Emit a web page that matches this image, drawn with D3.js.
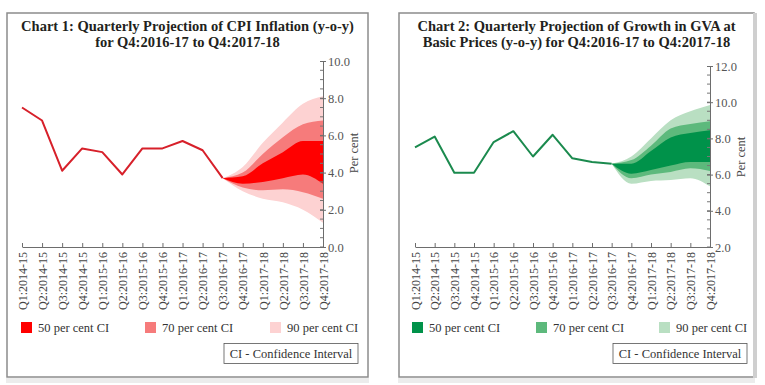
<!DOCTYPE html>
<html>
<head>
<meta charset="utf-8">
<script src="https://cdn.jsdelivr.net/npm/d3@7"></script>
<style>
  body { margin: 0; background: #fff; }
  text { font-family: "Liberation Serif", "DejaVu Serif", serif; }
</style>
</head>
<body>
<div id="chart"></div>
<script>
var width = 765;
var height = 385;

var quarters = ['Q1:2014-15', 'Q2:2014-15', 'Q3:2014-15', 'Q4:2014-15',
  'Q1:2015-16', 'Q2:2015-16', 'Q3:2015-16', 'Q4:2015-16',
  'Q1:2016-17', 'Q2:2016-17', 'Q3:2016-17', 'Q4:2016-17',
  'Q1:2017-18', 'Q2:2017-18', 'Q3:2017-18', 'Q4:2017-18'];
// projection quarters (fan starts at last actual)
var fanQuarters = quarters.slice(10);

var cpiActual = [7.5, 6.8, 4.1, 5.3, 5.1, 3.9, 5.3, 5.3, 5.7, 5.2, 3.7];
var cpi50Upper = [3.7, 3.8, 4.5, 5.1, 5.7, 5.7];
var cpi50Lower = [3.7, 3.4, 3.5, 3.7, 3.9, 3.4];
var cpi70Upper = [3.7, 4.0, 5.0, 5.9, 6.6, 6.8];
var cpi70Lower = [3.7, 3.2, 3.05, 3.1, 2.95, 2.6];
var cpi90Upper = [3.7, 4.3, 5.6, 6.7, 7.7, 8.1];
var cpi90Lower = [3.7, 3.0, 2.6, 2.4, 2.0, 1.3];

var gvaActual = [7.5, 8.1, 6.1, 6.1, 7.8, 8.4, 7.0, 8.2, 6.9, 6.7, 6.6];
var gva50Upper = [6.6, 6.6, 7.3, 8.05, 8.3, 8.45];
var gva50Lower = [6.6, 6.05, 6.25, 6.5, 6.7, 6.7];
var gva70Upper = [6.6, 6.8, 7.6, 8.55, 8.8, 8.95];
var gva70Lower = [6.6, 5.8, 6.0, 6.15, 6.35, 6.2];
var gva90Upper = [6.6, 7.0, 8.0, 9.0, 9.5, 9.85];
var gva90Lower = [6.6, 5.5, 5.65, 5.7, 5.8, 5.35];

var cpiTicks = [0, 2, 4, 6, 8, 10];
var gvaTicks = [2, 4, 6, 8, 10, 12];
var legendLabels = ['50 per cent CI', '70 per cent CI', '90 per cent CI'];

var svg = d3.select("#chart").append("svg")
  .attr("width", width)
  .attr("height", height);

function drawChart(cfg) {
  var g = svg.append("g");

  // panel frame
  g.append("rect")
    .attr("x", cfg.px).attr("y", 13)
    .attr("width", cfg.pw).attr("height", 364)
    .attr("fill", "none")
    .attr("stroke", "#8c8c8c")
    .attr("stroke-width", 1.5);
  g.append("rect")
    .attr("x", cfg.px - 1).attr("y", 378)
    .attr("width", cfg.pw + 2).attr("height", 5)
    .attr("fill", "#ececec");
  if (cfg.shadeRight) {
    g.append("rect")
      .attr("x", cfg.px + cfg.pw - 1).attr("y", 13)
      .attr("width", 4).attr("height", 365)
      .attr("fill", "#cfcfcf");
  }

  // title
  var title = g.append("text")
    .attr("text-anchor", "middle")
    .attr("font-weight", "bold")
    .attr("font-size", 14.5)
    .attr("fill", "#231f20");
  title.append("tspan").attr("x", cfg.px + cfg.pw / 2).attr("y", 31).text(cfg.title[0]);
  title.append("tspan").attr("x", cfg.px + cfg.pw / 2).attr("y", 47).text(cfg.title[1]);

  var x = d3.scalePoint()
    .domain(quarters)
    .range([cfg.x0, cfg.x1]);

  var y = d3.scaleLinear()
    .domain([cfg.ticks[0], cfg.ticks[cfg.ticks.length - 1]])
    .range([247, cfg.yTop]);

  // fan bands, widest first
  var area = d3.area()
    .x(function(d, i) { return x(fanQuarters[i]); })
    .y0(function(d) { return y(d[0]); })
    .y1(function(d) { return y(d[1]); })
    .curve(d3.curveMonotoneX);

  for (var k = cfg.bands.length - 1; k >= 0; k--) {
    g.append("path")
      .attr("d", area(d3.zip(cfg.bands[k][0], cfg.bands[k][1])))
      .attr("fill", cfg.colors[k]);
  }

  // actual line
  var line = d3.line()
    .x(function(d, i) { return x(quarters[i]); })
    .y(function(d) { return y(d); });

  g.append("path")
    .attr("d", line(cfg.actual))
    .attr("fill", "none")
    .attr("stroke", cfg.lineColor)
    .attr("stroke-width", 2)
    .attr("stroke-linejoin", "round");

  // x axis
  var xAxis = g.append("g")
    .attr("transform", "translate(0," + y(cfg.ticks[0]) + ")")
    .call(d3.axisBottom(x).tickSizeInner(-4).tickSizeOuter(0));
  xAxis.select(".domain").attr("stroke", "#6d6d6d");
  xAxis.selectAll(".tick line").attr("stroke", "#6d6d6d");
  xAxis.selectAll(".tick text")
    .attr("transform", "rotate(-90)")
    .attr("text-anchor", "end")
    .attr("x", -5)
    .attr("y", 0)
    .attr("dy", "0.35em")
    .style("font-family", "'Liberation Serif', serif")
    .style("font-size", "12px")
    .attr("fill", "#444");

  // y axis (right)
  var ax = cfg.x1;
  var minor = d3.range(cfg.ticks[0], cfg.ticks[cfg.ticks.length - 1], 0.5);
  g.selectAll(".minor")
    .data(minor)
    .enter().append("line")
    .attr("x1", ax - 3).attr("x2", ax)
    .attr("y1", function(d) { return y(d); })
    .attr("y2", function(d) { return y(d); })
    .attr("stroke", "#777");

  var yAxis = g.append("g")
    .attr("transform", "translate(" + ax + ",0)")
    .call(d3.axisRight(y).tickValues(cfg.ticks).tickFormat(d3.format(".1f"))
      .tickSizeInner(3).tickSizeOuter(0).tickPadding(2));
  yAxis.select(".domain").attr("stroke", "#6d6d6d");
  yAxis.selectAll(".tick line").attr("x1", -3).attr("stroke", "#6d6d6d");
  yAxis.selectAll(".tick text")
    .style("font-family", "'Liberation Serif', serif")
    .style("font-size", "12.5px")
    .attr("fill", "#555");

  g.append("text")
    .attr("transform", "translate(" + (ax + 35) + "," + cfg.labelY + ") rotate(-90)")
    .attr("text-anchor", "middle")
    .attr("font-size", 12.5)
    .attr("fill", "#444")
    .text("Per cent");

  // legend
  legendLabels.forEach(function(t, k) {
    g.append("rect")
      .attr("x", cfg.legendX[k]).attr("y", 322)
      .attr("width", 11).attr("height", 11)
      .attr("fill", cfg.colors[k]);
    g.append("text")
      .attr("x", cfg.legendX[k] + 17).attr("y", 332)
      .attr("font-size", 12.5)
      .attr("fill", "#333")
      .text(t);
  });

  g.append("rect")
    .attr("x", cfg.boxX).attr("y", 343.5)
    .attr("width", 134).attr("height", 20)
    .attr("fill", "none")
    .attr("stroke", "#555")
    .attr("stroke-width", 0.8);
  g.append("text")
    .attr("x", cfg.boxX + 67).attr("y", 357.5)
    .attr("text-anchor", "middle")
    .attr("font-size", 12.5)
    .attr("fill", "#333")
    .text("CI - Confidence Interval");
}

drawChart({
  px: 7, pw: 361,
  title: ['Chart 1: Quarterly Projection of CPI Inflation (y-o-y)', 'for Q4:2016-17 to Q4:2017-18'],
  x0: 22, x1: 323, yTop: 61,
  ticks: cpiTicks, labelY: 153,
  actual: cpiActual,
  bands: [[cpi50Lower, cpi50Upper], [cpi70Lower, cpi70Upper], [cpi90Lower, cpi90Upper]],
  colors: ['#ff0000', '#f67b7b', '#fdd2d2'],
  lineColor: '#d7202a',
  legendX: [21, 145, 270],
  boxX: 224,
  shadeRight: false
});

drawChart({
  px: 399, pw: 355,
  title: ['Chart 2: Quarterly Projection of Growth in GVA at', 'Basic Prices (y-o-y) for Q4:2016-17 to Q4:2017-18'],
  x0: 415, x1: 710, yTop: 66,
  ticks: gvaTicks, labelY: 157,
  actual: gvaActual,
  bands: [[gva50Lower, gva50Upper], [gva70Lower, gva70Upper], [gva90Lower, gva90Upper]],
  colors: ['#00924a', '#5db97c', '#b9dfc2'],
  lineColor: '#1b8a4e',
  legendX: [412, 536, 659],
  boxX: 613,
  shadeRight: true
});
</script>
</body>
</html>
